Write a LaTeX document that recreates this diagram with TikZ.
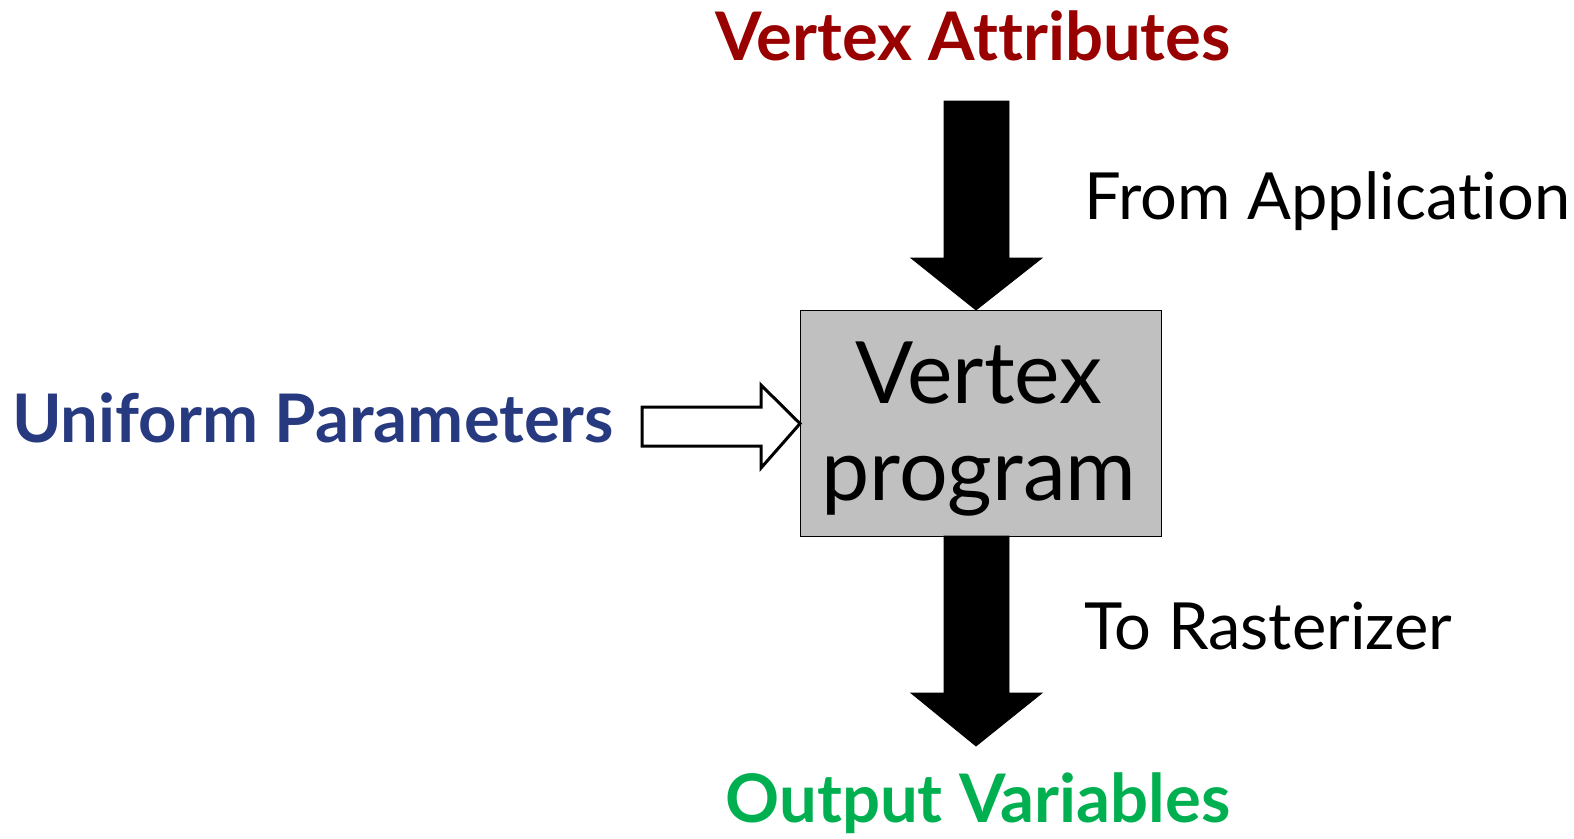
\documentclass[tikz,border=0pt]{standalone}
\usepackage{fontspec}
\setmainfont{Lato}[Ligatures=NoCommon]
\newfontfamily\lbl{Lato}[Ligatures=NoCommon]
\definecolor{attrred}{HTML}{990000}
\definecolor{unifblue}{HTML}{273A80}
\definecolor{outgreen}{HTML}{00B050}
\definecolor{boxgray}{HTML}{C0C0C0}
\begin{document}
\begin{tikzpicture}[x=1pt,y=-1pt,
  bigtitle/.style={font=\lbl\bfseries\fontsize{67}{70}\selectfont, inner sep=0pt},
  sidetext/.style={font=\lbl\fontsize{65}{70}\selectfont, inner sep=0pt, anchor=base west},
  fatarrow/.style={fill=black, draw=black, line width=0.8pt},
  hollowarrow/.style={fill=white, draw=black, line width=3pt, line join=miter}]
\useasboundingbox (0,0) rectangle (1574,838);
\node[draw=black, line width=1.2pt, fill=boxgray, minimum width=361pt, minimum height=226pt, anchor=north west, inner sep=0pt] (vp) at (800,310) {};
\node[font=\lbl\fontsize{86}{97}\selectfont, align=center, inner sep=0pt] (vptext) at (979,429) {Vertex\\program};
\node[bigtitle, text=attrred, anchor=base] (va) at (973,60) {Vertex Attributes};
\node[bigtitle, text=unifblue, anchor=base west] (up) at (12,442) {Uniform Parameters};
\node[bigtitle, text=outgreen, anchor=base] (ov) at (978,822) {Output Variables};
\node[sidetext] (fa) at (1084,219) {From Application};
\node[sidetext] (tr) at (1084,649) {To Rasterizer};
% top arrow
\coordinate (intip) at (vp.north -| 976,0);
\draw[fatarrow] (944,101) -- (1009,101) -- (1009,258) -- (1042,258) -- (intip) -- (911,258) -- (944,258) -- cycle;
% bottom arrow
\coordinate (outtip) at (976,746);
\draw[fatarrow] (944,536) -- (1009,536) -- (1009,693) -- (1042,693) -- (outtip) -- (911,693) -- (944,693) -- cycle;
% hollow arrow
\coordinate (utip) at (vp.west);
\draw[hollowarrow] (642,407) -- (761,407) -- (761,385) -- (utip) -- (761,468) -- (761,446) -- (642,446) -- cycle;
\end{tikzpicture}
\end{document}
